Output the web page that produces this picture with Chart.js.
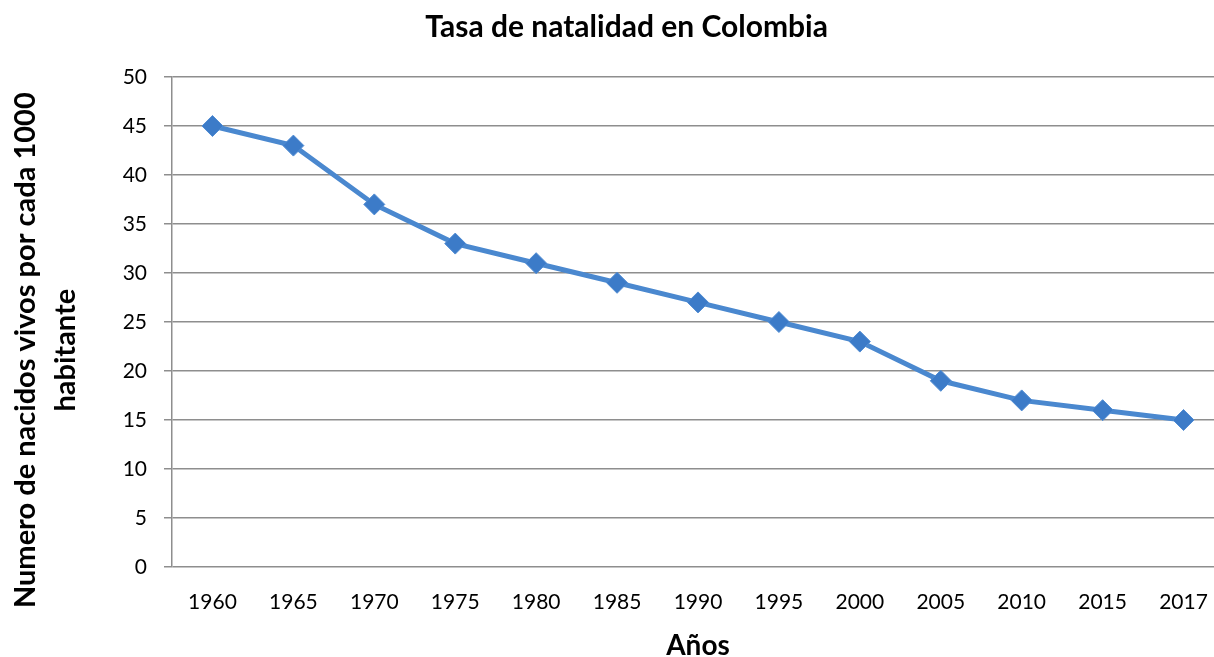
<!DOCTYPE html>
<html>
<head>
<meta charset="utf-8">
<script src="https://cdn.jsdelivr.net/npm/chart.js@4"></script>
<style>
  html, body { margin: 0; padding: 0; background: #fff; overflow: hidden; }
  #wrap { position: relative; width: 1257px; height: 657px; }
</style>
</head>
<body>
<div id="wrap"><canvas id="c"></canvas></div>
<script>
const categories = ['1960','1965','1970','1975','1980','1985','1990','1995','2000','2005','2010','2015','2017'];
const birthRate = [45, 43, 37, 33, 31, 29, 27, 25, 23, 19, 17, 16, 15];
const chartTitle = 'Tasa de natalidad en Colombia';
const xTitle = 'Años';
const yTitleLines = ['Numero de nacidos vivos por cada 1000', 'habitante'];
const yMin = 0, yMax = 50, yStep = 5;

const FONT = 'Lato, "Open Sans", sans-serif';
const GRID = '#8e8e8e';
const YPAD = '        ';
const TPAD = '    ';

new Chart(document.getElementById('c'), {
  type: 'line',
  data: {
    labels: categories,
    datasets: [{
      data: birthRate,
      borderColor: '#4A88CF',
      borderWidth: 5,
      backgroundColor: '#3C7BC8',
      pointStyle: 'rectRot',
      pointRadius: 10.5,
      pointHoverRadius: 10.5,
      pointBorderColor: '#4F8BD2',
      pointBorderWidth: 1,
      tension: 0,
      fill: false
    }]
  },
  options: {
    responsive: true,
    maintainAspectRatio: false,
    animation: false,
    layout: { padding: { left: 0, right: 33, top: 0, bottom: 0 } },
    plugins: {
      legend: { display: false },
      tooltip: { enabled: false },
      title: {
        display: true,
        text: TPAD + chartTitle,
        color: '#000',
        font: { family: FONT, size: 30, weight: 'bold', lineHeight: 1.2 },
        padding: { top: 9, bottom: 32 }
      }
    },
    scales: {
      x: {
        offset: true,
        grid: { display: false, drawTicks: false },
        border: { display: false },
        ticks: { color: '#000', font: { family: FONT, size: 21 }, padding: 23, maxRotation: 0, autoSkip: false },
        title: { display: true, text: xTitle, color: '#000', font: { family: FONT, size: 28, weight: 'bold', lineHeight: 1.2 }, padding: { top: 0, bottom: -6 } },
        afterFit: (s) => { s.height = 90; }
      },
      y: {
        min: yMin, max: yMax,
        ticks: { stepSize: yStep, color: '#000', font: { family: FONT, size: 21 }, padding: 17 },
        grid: { color: GRID, lineWidth: 1.5, tickLength: 8, drawTicks: true },
        border: { display: true, color: GRID, width: 1.5 },
        title: {
          display: true,
          text: yTitleLines.map(l => l + YPAD),
          color: '#000',
          font: { family: FONT, size: 29, weight: 'bold', lineHeight: 40 / 29 },
          padding: { top: 6, bottom: 0 }
        },
        afterFit: (s) => { s.width = 172; }
      }
    }
  }
});
</script>
</body>
</html>
